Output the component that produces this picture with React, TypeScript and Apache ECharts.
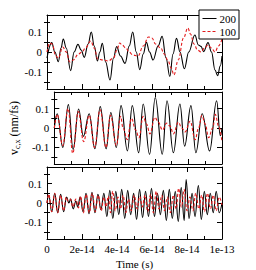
import React, { useEffect, useRef } from "react";
import * as echarts from "echarts";

const seriesNames = ["200", "100"];
const xTickLabels = ["0", "2e-14", "4e-14", "6e-14", "8e-14", "1e-13"];
const yMajorTicks = [-0.1, 0, 0.1];
const yMinorTicks = [-0.15, -0.05, 0.05, 0.15];

// time in fs (1e-15 s), velocity in nm/fs
const topBlack = [[0,-0.03],[2.7,0.047],[4.5,0.0],[6.5,-0.048],[8,0.02],[9.3,0.065],[11,0.02],[13.5,-0.093],[15.5,0.0],[17.7,0.038],[19.5,0.01],[21.3,-0.027],[23.5,0.04],[25.3,0.10],[27,0.03],[28.8,-0.045],[30.2,0.0],[31.6,0.043],[33.5,-0.05],[36,-0.14],[38,-0.03],[39.8,0.027],[42,-0.02],[44.6,-0.057],[47,0.03],[49,0.10],[51,0.0],[53,-0.088],[55,-0.01],[56.8,0.048],[58.6,0.0],[60.6,-0.04],[63.5,0.03],[65.8,0.078],[68,-0.03],[70.2,-0.122],[72,-0.01],[74,0.068],[76,0.0],[78.5,-0.084],[81,0.0],[84.5,0.085],[86.5,0.035],[88,0.028],[89.5,0.002],[92,0.047],[94,0.0],[96,-0.09],[97.5,-0.118],[99,-0.07],[100,-0.02]];
const topRed = [[0,0.0],[1.5,0.045],[3,0.04],[5,-0.02],[6.5,-0.03],[9,0.025],[11,0.0],[13,-0.05],[15,-0.04],[18,-0.01],[20,0.0],[22,0.02],[25,0.055],[27,0.02],[29,-0.035],[32,-0.04],[35,-0.045],[38,-0.03],[40,0.01],[41.5,0.045],[43,0.035],[45,0.02],[47,0.0],[49,-0.015],[52,-0.02],[55,0.03],[58,0.075],[60,0.07],[62,0.04],[65,0.02],[67,-0.01],[69,-0.04],[71,-0.08],[72.5,-0.115],[75,-0.04],[78,0.07],[80.5,0.12],[82,0.09],[84,0.04],[86,0.01],[88,0.0],[90,0.02],[92,0.035],[94,0.02],[96,0.0],[98,0.03],[100,0.065]];
const midBlack = [[0,0.0],[1.7,0.073],[5.1,-0.10],[8.4,0.12],[11.2,-0.11],[14.5,0.098],[17.3,-0.043],[20.8,0.073],[24.2,-0.107],[27.4,0.11],[30.9,-0.107],[33.7,0.08],[37,-0.10],[39.8,0.115],[43.6,-0.118],[46.5,0.115],[50.3,-0.127],[53,0.123],[56.8,-0.135],[60.2,0.157],[64.4,-0.135],[67.2,0.14],[71,-0.127],[74.9,0.123],[77.7,-0.093],[81.5,0.115],[84.4,-0.127],[88.2,0.073],[92.6,-0.118],[96.8,0.14],[99,-0.04],[100,0.0]];
const midRed = [[0,0.0],[1.7,0.07],[5,-0.09],[8.2,0.10],[11,-0.13],[14.3,0.085],[17.5,-0.07],[20.8,0.065],[24,-0.10],[27.3,0.095],[30.8,-0.10],[33.5,0.065],[37,-0.09],[39.5,0.06],[41,0.0],[43.5,-0.06],[46,0.05],[48.5,-0.01],[50.5,-0.05],[53,0.06],[55,0.02],[57,-0.03],[60,0.055],[62,0.03],[64.5,-0.01],[67,0.025],[69,0.01],[71,-0.03],[74,0.03],[76,0.0],[78,-0.02],[81,0.035],[84,-0.06],[86,0.0],[88,0.065],[90,0.02],[92,-0.05],[94.5,0.0],[96,0.07],[98,0.01],[100,-0.07]];
const botBlack = [[0,0.0],[1.0,0.04],[2.7,-0.045],[4.4,0.05],[6.1,-0.05],[7.8,0.045],[9.5,-0.045],[11.2,0.03],[12.5,0.0],[13.5,0.02],[15.0,-0.03],[16.5,0.01],[17.5,-0.02],[19.0,0.03],[20.6,-0.045],[22.3,0.05],[24.0,-0.055],[25.7,0.055],[27.4,-0.05],[29.1,0.045],[30.8,-0.035],[32.5,0.05],[34.2,-0.07],[35.9,0.065],[37.6,-0.08],[39.3,0.06],[41.0,-0.06],[42.7,0.07],[44.4,-0.08],[46.1,0.065],[47.8,-0.06],[49.5,0.05],[51.2,-0.085],[52.9,0.07],[54.6,-0.075],[56.3,0.06],[58.0,-0.07],[59.7,0.075],[61.4,-0.07],[63.1,0.05],[64.8,-0.06],[66.5,0.065],[68.2,-0.09],[69.9,0.07],[71.6,-0.08],[73.3,0.06],[75.0,-0.095],[76.7,0.08],[78.4,-0.09],[79.5,0.12],[81.2,-0.08],[82.9,0.05],[84.6,-0.07],[86.5,0.09],[88.2,-0.085],[89.9,0.06],[91.6,-0.06],[93.3,0.05],[95.0,-0.05],[96.7,0.06],[98.4,-0.05],[100,0.0]];
const botRed = [[0,0.0],[1.0,0.045],[2.7,-0.045],[4.4,0.05],[6.1,-0.05],[7.8,0.04],[9.5,-0.04],[11.0,0.03],[12.0,0.01],[13.3,0.02],[14.8,-0.02],[16.5,0.02],[18.0,-0.025],[19.2,0.035],[20.8,-0.05],[22.4,0.045],[24.2,-0.05],[25.9,0.05],[27.6,-0.045],[29.3,0.04],[31.0,-0.04],[32.5,0.03],[33.8,-0.02],[35.0,0.035],[36.3,-0.05],[37.5,0.06],[39.0,-0.04],[40.5,0.03],[42.0,-0.03],[43.5,0.04],[45.0,-0.05],[46.5,0.02],[48.2,-0.04],[49.8,0.04],[51.5,-0.03],[53.0,0.035],[54.5,-0.02],[56.0,0.04],[57.6,-0.045],[59.2,0.045],[60.8,-0.05],[62.4,0.06],[64.0,-0.03],[65.6,0.04],[67.2,-0.04],[68.8,0.03],[70.5,-0.05],[72.2,0.04],[73.8,-0.03],[75.2,0.075],[76.8,-0.02],[78.4,0.07],[80.0,-0.04],[81.7,0.03],[83.4,-0.04],[85.0,0.05],[86.8,-0.03],[88.4,0.04],[90.0,-0.045],[91.7,0.05],[93.4,-0.03],[95.0,0.04],[96.7,-0.04],[98.4,0.03],[100,-0.01]];

const FONT = "Liberation Serif";
const RED = "#e31a1c";

export default function App() {
  const ref = useRef<HTMLDivElement>(null);
  useEffect(() => {
    const chart = echarts.init(ref.current!, null, { renderer: "svg" });
    const grids = [
      { left: 47, top: 15, width: 175, height: 74 },
      { left: 47, top: 92, width: 175, height: 72 },
      { left: 47, top: 167, width: 175, height: 73 },
    ];
    const panels = [
      [topBlack, topRed],
      [midBlack, midRed],
      [botBlack, botRed],
    ];
    const axisLine = { show: true, onZero: false, lineStyle: { color: "#000", width: 1 } };
    const xAxes: any[] = [];
    const yAxes: any[] = [];
    grids.forEach((_, i) => {
      ["bottom", "top"].forEach((pos) => {
        const isLabel = pos === "bottom" && i === 2;
        xAxes.push({
          type: "value", gridIndex: i, position: pos, min: 0, max: 100, interval: 20,
          axisLine,
          axisTick: { show: true, inside: true, length: 5, lineStyle: { color: "#000" } },
          minorTick: { show: true, splitNumber: 2, length: 3, lineStyle: { color: "#000" } },
          splitLine: { show: false },
          axisLabel: {
            show: isLabel, color: "#000", fontFamily: FONT, fontSize: 11, margin: 4,
            formatter: (v: number) => xTickLabels[Math.round(v / 20)] ?? "",
          },
          name: isLabel ? "Time (s)" : "",
          nameLocation: "middle", nameGap: 19,
          nameTextStyle: { color: "#000", fontFamily: FONT, fontSize: 11 },
        });
      });
      ["left", "right"].forEach((pos) => {
        const isLabel = pos === "left";
        yAxes.push({
          type: "value", gridIndex: i, position: pos, min: -0.185, max: 0.185,
          axisLine,
          axisTick: { show: true, inside: true, length: 5, customValues: yMajorTicks, lineStyle: { color: "#000" } },
          splitLine: { show: false },
          axisLabel: {
            show: isLabel, customValues: yMajorTicks, color: "#000", fontFamily: FONT, fontSize: 11, margin: 5,
            formatter: (v: number) => String(Math.round(v * 10) / 10),
          },
          name: isLabel && i === 1 ? "{t|v}{s|c,x}{t| (nm/fs)}" : "",
          nameLocation: "middle", nameGap: 24, nameRotate: 90,
          nameTextStyle: {
            color: "#000", fontFamily: FONT, fontSize: 12,
            rich: {
              t: { fontFamily: FONT, fontSize: 12, color: "#000" },
              s: { fontFamily: FONT, fontSize: 8, color: "#000", padding: [6, 0, 0, 0] },
            },
          },
        });
        yAxes.push({
          type: "value", gridIndex: i, position: pos, min: -0.185, max: 0.185,
          axisLine: { show: false },
          axisTick: { show: true, inside: true, length: 3, customValues: yMinorTicks, lineStyle: { color: "#000" } },
          splitLine: { show: false },
          axisLabel: { show: false },
        });
      });
    });
    const series: any[] = [];
    panels.forEach((p, i) => {
      p.forEach((data, k) => {
        series.push({
          type: "line", name: seriesNames[k], xAxisIndex: i * 2, yAxisIndex: i * 4,
          data, symbol: "none", smooth: 0.4, smoothMonotone: "x",
          lineStyle: k === 0
            ? { color: "#000", width: 1.1, type: "solid" }
            : { color: RED, width: 1.1, type: [3, 2] },
          itemStyle: { color: k === 0 ? "#000" : RED },
          z: k === 0 ? 2 : 3,
        });
      });
    });
    chart.setOption({
      animation: false,
      backgroundColor: "#fff",
      grid: grids,
      xAxis: xAxes,
      yAxis: yAxes,
      legend: {
        data: seriesNames, orient: "vertical", left: 199, top: 10,
        itemWidth: 14, itemHeight: 8, itemGap: 2, padding: [3, 3, 2, 3],
        backgroundColor: "#fff", borderColor: "#000", borderWidth: 1,
        itemStyle: { opacity: 0 },
        lineStyle: { width: 1 },
        textStyle: { color: "#000", fontFamily: FONT, fontSize: 11, padding: [0, 0, 0, -2] },
      },
      series,
    });
    return () => chart.dispose();
  }, []);
  return <div ref={ref} style={{ position: "fixed", left: 0, top: 0, width: 256, height: 270 }} />;
}
